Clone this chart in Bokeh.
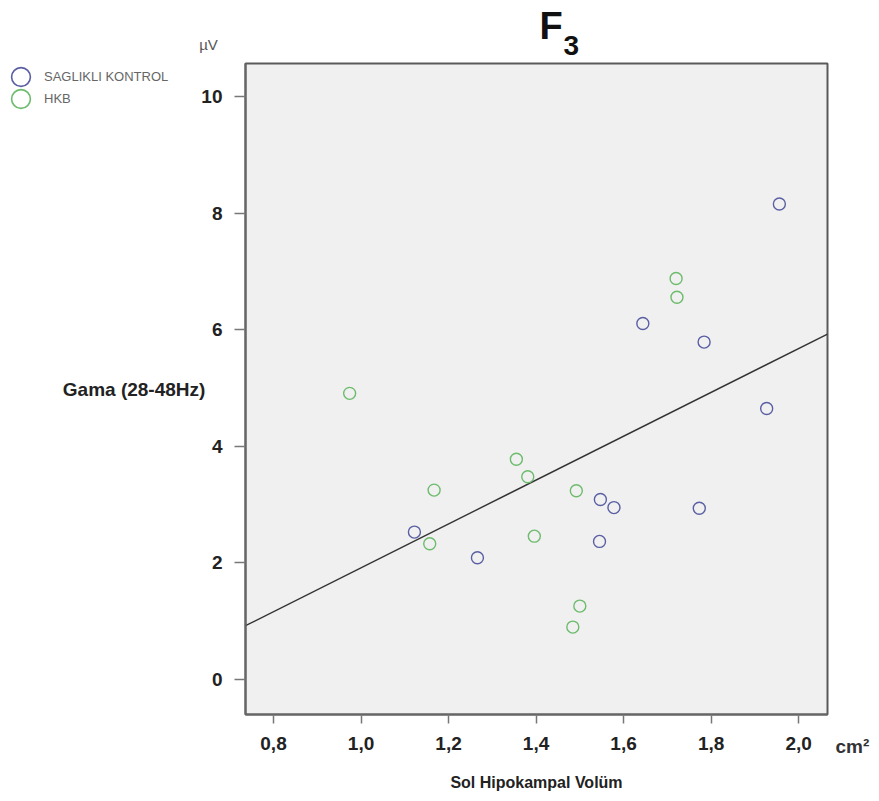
import numpy as np
from bokeh.plotting import figure
from bokeh.models import (ColumnDataSource, FixedTicker, Label, Legend,
                          LegendItem, Range1d, GridBox)
from bokeh.embed import file_html
from bokeh.resources import INLINE

# ---- data ----
control_x = [1.956, 1.644, 1.784, 1.927, 1.773, 1.547, 1.578, 1.545, 1.266, 1.122]
control_y = [8.16, 6.11, 5.79, 4.65, 2.94, 3.09, 2.95, 2.37, 2.09, 2.53]
hkb_x = [0.974, 1.720, 1.722, 1.355, 1.381, 1.167, 1.157, 1.396, 1.492, 1.500, 1.484]
hkb_y = [4.91, 6.88, 6.56, 3.78, 3.48, 3.25, 2.33, 2.46, 3.24, 1.26, 0.90]

x_ticks = [0.8, 1.0, 1.2, 1.4, 1.6, 1.8, 2.0]
x_tick_labels = ["0,8", "1,0", "1,2", "1,4", "1,6", "1,8", "2,0"]
y_ticks = [0, 2, 4, 6, 8, 10]

title_main = "F"
title_sub = "3"
x_label = "Sol Hipokampal Volüm"
y_label = "Gama (28-48Hz)"
x_unit = "cm²"
y_unit = "µV"
series_names = ["SAGLIKLI KONTROL", "HKB"]

BLUE = "#5a5fa3"
GREEN = "#6dbb6d"
FONT = "Liberation Sans"
W, H = 879, 801

# ---------------- main chart ----------------
x_lo, x_hi = 0.736, 2.066
p = figure(width=W, height=H,
           x_range=Range1d(x_lo, x_hi), y_range=Range1d(-0.6, 10.57),
           output_backend="svg", toolbar_location=None,
           min_border_left=245, min_border_right=52,
           min_border_top=63, min_border_bottom=87)
p.frame_align = False

p.background_fill_color = "#f0f0f0"
p.border_fill_color = "white"
p.outline_line_color = "#5a5a5a"
p.outline_line_width = 2
p.xgrid.visible = False
p.ygrid.visible = False

for ax in (p.xaxis[0], p.yaxis[0]):
    ax.axis_line_color = "#666666"
    ax.axis_line_width = 2
    ax.major_tick_line_color = "#777777"
    ax.major_tick_line_width = 1.5
    ax.major_tick_in = 0
    ax.minor_tick_line_color = None
    ax.major_label_text_font = FONT
    ax.major_label_text_font_style = "bold"
    ax.major_label_text_font_size = "19px"
    ax.major_label_text_color = "#222222"
    ax.axis_label_text_font = FONT
    ax.axis_label_text_font_style = "bold"
    ax.axis_label_text_color = "#222222"

p.xaxis.ticker = FixedTicker(ticks=x_ticks)
p.xaxis.major_label_overrides = dict(zip(x_ticks, x_tick_labels))
p.xaxis.major_tick_out = 9
p.xaxis.major_label_standoff = 13
p.xaxis.axis_label = x_label
p.xaxis.axis_label_text_font_size = "16px"
p.xaxis.axis_label_standoff = 21

p.yaxis.ticker = FixedTicker(ticks=y_ticks)
p.yaxis.major_tick_out = 11
p.yaxis.major_label_standoff = 12
p.yaxis.axis_label = y_label
p.yaxis.axis_label_text_font_size = "19px"
p.yaxis.axis_label_orientation = "horizontal"
p.yaxis.axis_label_standoff = -7

# least-squares fit line over all points
all_x = np.array(control_x + hkb_x)
all_y = np.array(control_y + hkb_y)
slope, intercept = np.polyfit(all_x, all_y, 1)
p.line([x_lo, x_hi], [intercept + slope * x_lo, intercept + slope * x_hi],
       line_color="#333333", line_width=1.4)

src_c = ColumnDataSource(dict(x=control_x, y=control_y))
src_h = ColumnDataSource(dict(x=hkb_x, y=hkb_y))
p.scatter("x", "y", source=src_c, marker="circle", size=12,
          fill_color=None, line_color=BLUE, line_width=1.4)
p.scatter("x", "y", source=src_h, marker="circle", size=12,
          fill_color=None, line_color=GREEN, line_width=1.4)

# ---------------- transparent overlay for texts outside the frame ----------------
ov = figure(width=W, height=H, x_range=Range1d(0, W), y_range=Range1d(H, 0),
            output_backend="svg", toolbar_location=None,
            x_axis_type=None, y_axis_type=None, min_border=0)
ov.frame_align = False
ov.border_fill_color = None
ov.background_fill_color = None
ov.outline_line_color = None
ov.grid.visible = False

def add_text(x, y, text, size, style="normal", color="#222222", align="left"):
    ov.add_layout(Label(x=x, y=y, text=text, text_font=FONT,
                        text_font_style=style, text_font_size=size,
                        text_color=color, text_align=align,
                        text_baseline="middle"))

add_text(539, 25, title_main, "38px", "bold", "#111111")
add_text(563, 45, title_sub, "28px", "bold", "#111111")
add_text(208, 44, y_unit, "15px", "normal", "#555555", "center")
add_text(835, 746, x_unit, "19px", "bold", "#333333")

# legend (one Legend per entry so the markers can be large while rows stay close)
legend_y = [701, 679]
for name, color, ly in zip(series_names, [BLUE, GREEN], legend_y):
    # off-canvas placeholder point: only the legend swatch of it is visible
    r = ov.scatter(x=[-100], y=[-100], marker="circle", size=19, fill_color=None,
                   line_color=color, line_width=1.6)
    ov.add_layout(Legend(items=[LegendItem(label=name, renderers=[r])],
                         location=(-3, ly), orientation="vertical",
                         glyph_width=47, glyph_height=47, label_standoff=-6,
                         spacing=0, padding=0, margin=0,
                         border_line_color=None, background_fill_alpha=0,
                         label_text_font=FONT, label_text_font_size="13px",
                         label_text_color="#666666"))

layout = GridBox(children=[(p, 0, 0), (ov, 0, 0)])
open("out.html", "w").write(file_html(layout, INLINE))
